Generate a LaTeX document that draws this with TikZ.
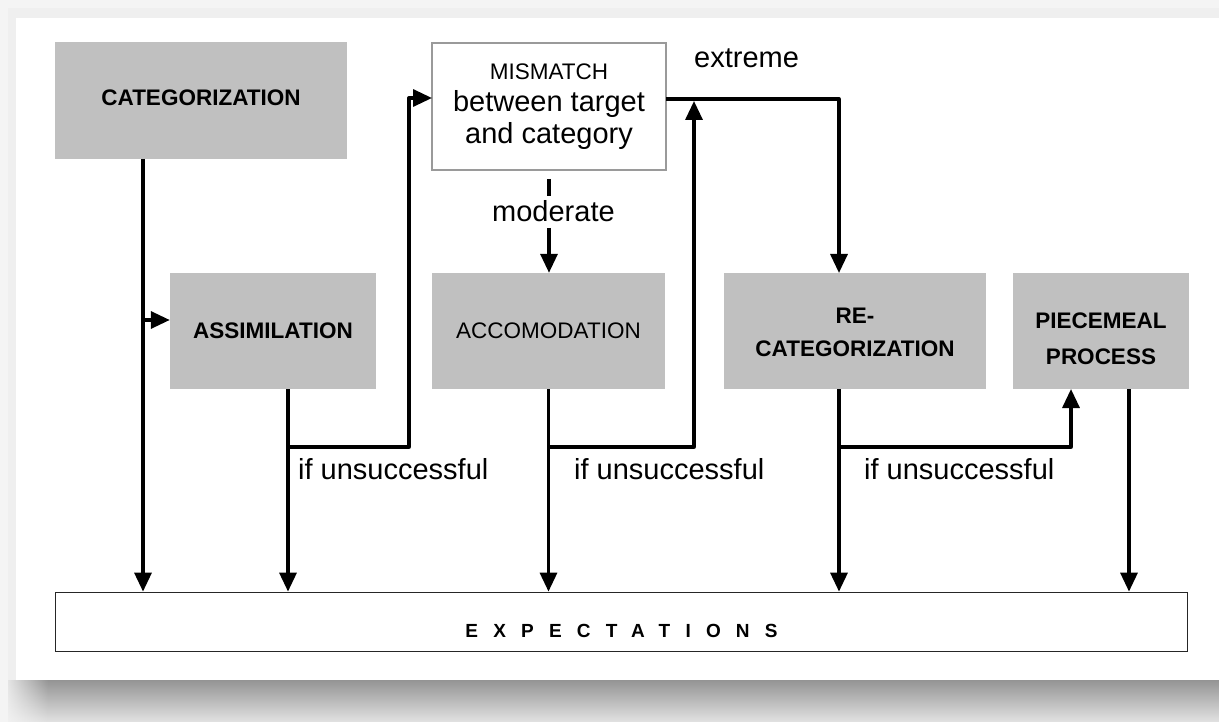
\documentclass[tikz,border=0pt]{standalone}
\usepackage{fontspec}
\setmainfont{Liberation Sans}
\usetikzlibrary{arrows.meta,calc,fadings}
\definecolor{boxgray}{HTML}{C0C0C0}
\definecolor{edgegray}{HTML}{F4F4F4}
\definecolor{stripgray}{HTML}{EFEFEF}
\definecolor{shadowtop}{HTML}{949494}
\definecolor{shadowbot}{HTML}{E2E2E2}
\definecolor{framegray}{HTML}{9A9A9A}
\tikzset{
  graybox/.style={fill=boxgray, draw=none, inner sep=0pt, align=center, text=black},
  boldtext/.style={font=\bfseries\fontsize{22.5}{34}\selectfont},
  plaintext/.style={font=\fontsize{22.5}{35}\selectfont},
  labeltext/.style={font=\fontsize{29}{32}\selectfont, inner sep=0pt, text=black},
  conn/.style={line width=3.3pt, line join=round,
    -{Triangle[length=19pt,width=17pt]}},
  plainline/.style={line width=3.3pt}
}
\begin{document}
\begin{tikzpicture}[x=1pt,y=-1pt]
\useasboundingbox (0,0) rectangle (1219,722);
% page with drop shadow
\fill[edgegray] (0,0) rectangle (1219,722);
\fill[stripgray] (8,8) rectangle (1219,18);
\fill[stripgray] (8,8) rectangle (16,680);
\fill[white] (16,18) rectangle (1219,680);
\shade[top color=shadowtop, bottom color=shadowbot] (8,680) rectangle (1219,722);
\fill[edgegray, path fading=east] (0,680) rectangle (48,722);

% boxes
\node[graybox, boldtext, minimum width=292pt, minimum height=117pt] (cat) at (201,100.5)
      {\raisebox{-5pt}[0pt][0pt]{CATEGORIZATION}};
\node[draw=framegray, line width=1.6pt, fill=white, inner sep=0pt, align=center,
      minimum width=234pt, minimum height=127pt,
      font=\fontsize{29}{32}\selectfont] (mm) at (549,106.5)
      {{\fontsize{22.5}{32}\selectfont MISMATCH}\\between target\\and category};
\node[graybox, boldtext, minimum width=206pt, minimum height=116pt] (asm) at (273,331) {ASSIMILATION};
\node[graybox, plaintext, minimum width=233pt, minimum height=116pt] (acc) at (548.5,331) {ACCOMODATION};
\node[graybox, font=\bfseries\fontsize{22.5}{33}\selectfont, minimum width=262pt, minimum height=116pt] (rec) at (855,331)
      {\raisebox{-8pt}[0pt][0pt]{\begin{tabular}{@{}c@{}}RE-\\CATEGORIZATION\end{tabular}}};
\node[graybox, font=\bfseries\fontsize{22.5}{36}\selectfont, minimum width=176pt, minimum height=116pt] (pie) at (1101,331)
      {\raisebox{-13pt}[0pt][0pt]{\begin{tabular}{@{}c@{}}PIECEMEAL\\PROCESS\end{tabular}}};
\node[draw=black!85, line width=1.8pt, fill=white, inner sep=0pt,
      minimum width=1132pt, minimum height=59pt,
      font=\bfseries\fontsize{19}{20}\selectfont] (exp) at (621.5,622)
      {\raisebox{-15pt}[0pt][0pt]{\addfontfeature{LetterSpace=80}EXPECTATIONS}};

% labels
\node[labeltext, anchor=base west] (ext) at (694,68) {extreme};
\node[labeltext, anchor=base west] (mod) at (492,222) {moderate};
\node[labeltext, anchor=base west] (fail1) at (298,479) {if unsuccessful};
\node[labeltext, anchor=base west] (fail2) at (574,479) {if unsuccessful};
\node[labeltext, anchor=base west] (fail3) at (864,479) {if unsuccessful};

% connector end points
\coordinate (catout) at (143,159);
\coordinate (catbr) at (143,320);
\coordinate (asmout) at (288,389);
\coordinate (asmbr) at (288,447);
\coordinate (mmin) at (432,98);
\coordinate (mmout) at (666,99);
\coordinate (modend) at (549,228);
\coordinate (accout) at (548.5,389);
\coordinate (accbr) at (548.5,447);
\coordinate (exjoint) at (694,101);
\coordinate (recin) at (839,273);
\coordinate (recout) at (839,389);
\coordinate (recbr) at (839,447);
\coordinate (piein) at (1071,389);
\coordinate (pieout) at (1129,389);

% connectors
\draw[conn] (catout) -- (catout |- exp.north);
\draw[conn] (catbr) -- (catbr -| asm.west);
\draw[conn] (asmout) -- (asmout |- exp.north);
\draw[conn] (asmbr) -| ([xshift=-23pt]mmin) -- (mmin);
\draw[plainline, dash pattern=on 0pt off 8pt on 17pt off 500pt] (mm.south) -- (mm.south |- mod.north);
\draw[conn] (modend) -- (modend |- acc.north);
\draw[conn] (accout) -- (accout |- exp.north);
\draw[conn] (accbr) -| (exjoint);
\draw[conn] (mmout) -| (recin);
\draw[conn] (recout) -- (recout |- exp.north);
\draw[conn] (recbr) -| (piein);
\draw[conn] (pieout) -- (pieout |- exp.north);
\end{tikzpicture}
\end{document}
